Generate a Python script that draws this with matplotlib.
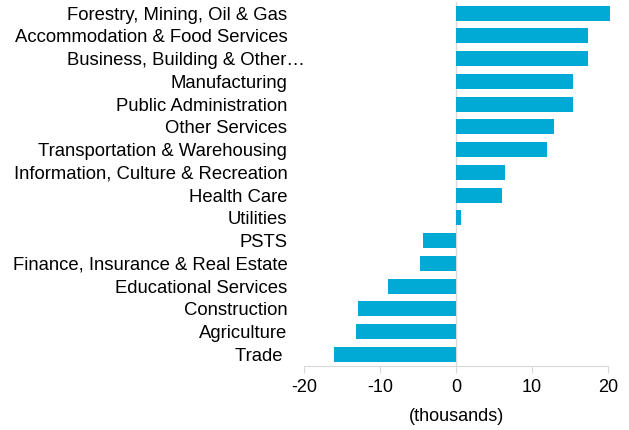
import matplotlib.pyplot as plt
from matplotlib.transforms import ScaledTranslation

plt.rcParams['font.family'] = ['Liberation Sans', 'DejaVu Sans']
plt.rcParams['axes.unicode_minus'] = False

# top to bottom
sectors = ["Forestry, Mining, Oil & Gas", "Accommodation & Food Services",
           "Business, Building & Other\u2026", "Manufacturing", "Public Administration",
           "Other Services", "Transportation & Warehousing",
           "Information, Culture & Recreation", "Health Care", "Utilities", "PSTS",
           "Finance, Insurance & Real Estate", "Educational Services",
           "Construction", "Agriculture", "Trade "]
change = [20.2, 17.4, 17.3, 15.4, 15.4, 12.9, 12.0, 6.5, 6.1, 0.7,
          -4.3, -4.8, -8.9, -12.9, -13.1, -16.0]

fig = plt.figure(figsize=(6.29, 4.30), dpi=100)
ax = fig.add_axes([0.4833, 0.1498, 0.4834, 0.846])

ypos = list(range(len(sectors)))
ax.barh(ypos, change, height=0.66, color='#00AAD4', zorder=2, clip_on=False)
ax.axvline(0, color='#D9D9D9', lw=1, zorder=1)

ax.set_ylim(len(sectors) - 0.5, -0.5)
ax.set_xlim(-20, 20)
ax.set_xticks([-20, -10, 0, 10, 20])
ax.set_yticks(ypos)
ax.set_yticklabels(sectors, fontsize=13.3)
ax.tick_params(axis='y', length=0, pad=12)
ax.tick_params(axis='x', length=5, color='#D9D9D9', labelsize=13, pad=5)
for s in ['top', 'right', 'left']:
    ax.spines[s].set_visible(False)
ax.spines['bottom'].set_color('#D9D9D9')
ax.set_xlabel("(thousands)", fontsize=13, labelpad=8)

# the truncated label sits further right
lab = ax.get_yticklabels()[2]
lab.set_transform(lab.get_transform() + ScaledTranslation(18 / 100, 0, fig.dpi_scale_trans))

fig.savefig("out.png", dpi=100)
